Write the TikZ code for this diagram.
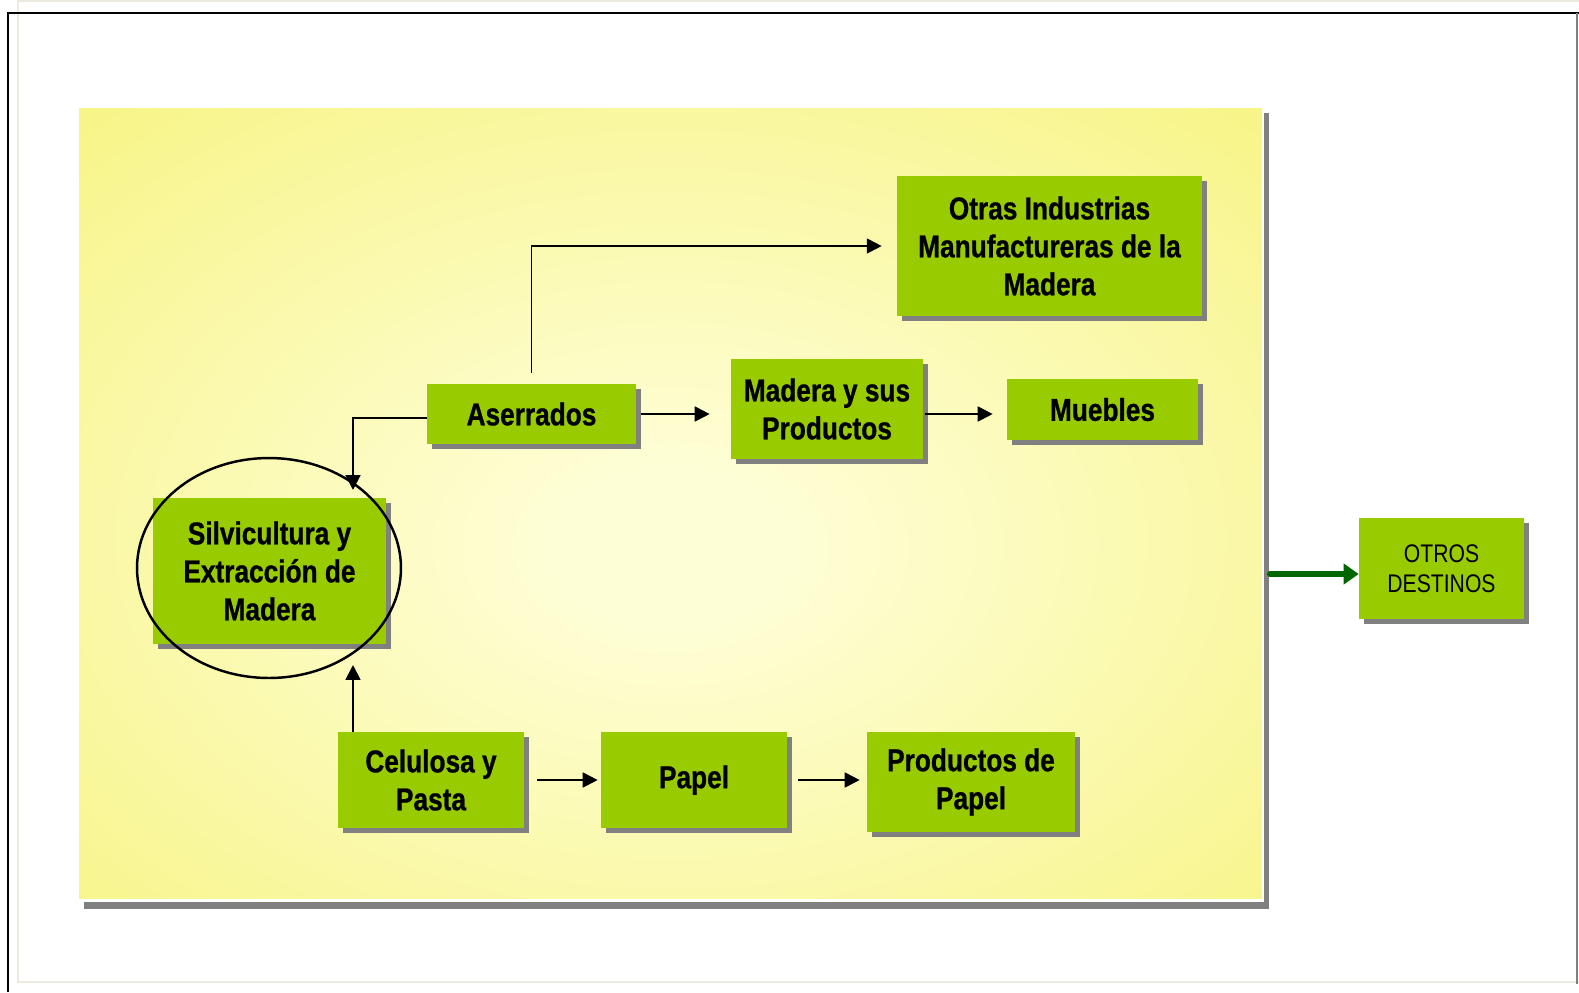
\documentclass[tikz,border=0pt]{standalone}
\usepackage{fontspec}
\setmainfont{Liberation Sans}
\newfontfamily\narrowfont[FakeStretch=0.83, BoldFeatures={FakeBold=0.8}]{Liberation Sans}
\usetikzlibrary{shapes.geometric, shadows, arrows.meta}

\definecolor{boxgreen}{HTML}{99CC00}
\definecolor{shadowgray}{HTML}{808080}
\definecolor{paneledge}{HTML}{F6F37A}
\definecolor{panelmid}{HTML}{FEFED6}
\definecolor{arrowgreen}{HTML}{006600}
\definecolor{framebeige}{HTML}{ECEADF}

\pgfdeclareradialshading{panelglow}{\pgfpoint{0bp}{-3bp}}{color(0bp)=(panelmid); color(5bp)=(panelmid); color(42bp)=(paneledge); color(100bp)=(paneledge)}

\tikzset{
  box/.style={fill=boxgreen, inner sep=0pt, align=center,
    font=\narrowfont\bfseries\fontsize{18}{21.6}\selectfont,
    drop shadow={shadow xshift=0.1cm, shadow yshift=-0.1cm, fill=shadowgray, opacity=1}},
  arr/.style={-{Triangle[length=8.5pt, width=8.5pt]}, line width=1.1pt, black},
}

\begin{document}
\begin{tikzpicture}[x=0.02cm, y=-0.02cm]
\useasboundingbox (0,0) rectangle (1579,992);
% window frame
\draw[framebeige, line width=1.2pt] (18,1) -- (1579,1);
\draw[framebeige, line width=1.2pt] (18,0) -- (18,982) -- (1579,982);
\draw[black, line width=1.4pt] (8,992) -- (8,13) -- (1579,13);
\draw[gray, line width=0.8pt] (1577,13) -- (1577,984);
% yellow panel
\fill[shadowgray] (84,113) rectangle (1269,909);
\fill[white] (78,107) rectangle (1264,902);
\shade[shading=panelglow] (79,108) rectangle (1262,898);
% boxes
\node[box, minimum width=6.1cm, minimum height=2.8cm] (otr) at (1049.5,246) {Otras Industrias\\Manufactureras de la\\Madera};
\node[box, minimum width=4.18cm, minimum height=1.2cm] (ase) at (531.5,414) {Aserrados};
\node[box, minimum width=3.84cm, minimum height=2cm] (mad) at (827,409) {Madera y sus\\Productos};
\node[box, minimum width=3.82cm, minimum height=1.22cm] (mue) at (1102.5,409.5) {Muebles};
\node[box, minimum width=4.66cm, minimum height=2.92cm] (sil) at (269.5,571) {Silvicultura y\\Extracción de\\Madera};
\node[box, minimum width=3.72cm, minimum height=1.92cm] (cel) at (431,780) {Celulosa y\\Pasta};
\node[box, minimum width=3.72cm, minimum height=1.92cm] (pap) at (694,780) {Papel};
\node[box, minimum width=4.16cm, minimum height=2cm] (pro) at (971,782) {Productos de\\Papel};
\node[box, minimum width=3.3cm, minimum height=2.02cm, font=\narrowfont\fontsize{14.5}{17}\selectfont] (des) at (1441.5,568.5) {OTROS\\DESTINOS};
\node[draw, ellipse, line width=1.4pt, inner sep=0pt, minimum width=5.28cm, minimum height=4.4cm] (ring) at (269,568) {};
% connectors
\coordinate (ringtop) at (353,490);
\coordinate (ringbot) at (353,665);
\coordinate (panelout) at (1270,574);
\draw[arr, shorten >=0.3cm] ([yshift=0.22cm]ase.north) |- (otr.west);
\draw[arr] ([yshift=-0.08cm]ase.west) -| (ringtop);
\draw[arr] (cel.north -| ringbot) -- (ringbot);
\draw[arr, shorten <=0.1cm, shorten >=0.42cm] (ase.east) -- (ase.east -| mad.west);
\draw[arr, shorten <=0.04cm, shorten >=0.28cm] ([yshift=-0.1cm]mad.east) -- ([yshift=-0.1cm]mad.east -| mue.west);
\draw[arr, shorten <=0.26cm, shorten >=0.06cm] (cel.east) -- (pap.west);
\draw[arr, shorten <=0.22cm, shorten >=0.14cm] (pap.east) -- (pap.east -| pro.west);
\draw[-{Triangle[length=8.5pt, width=11.4pt]}, line width=3.4pt, line cap=round, arrowgreen] (panelout) -- (panelout -| des.west);
\end{tikzpicture}
\end{document}
